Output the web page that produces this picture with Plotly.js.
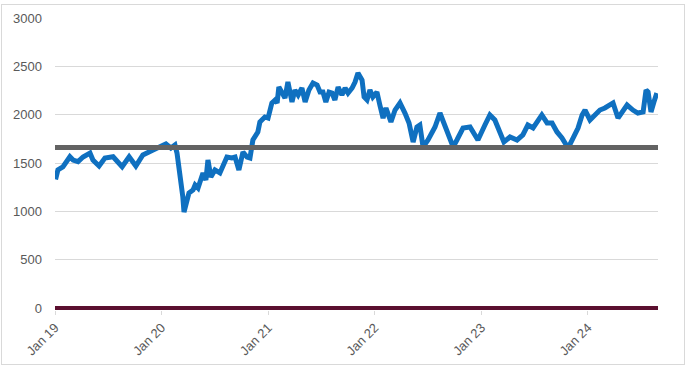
<!DOCTYPE html>
<html>
<head>
<meta charset="utf-8">
<script src="https://cdn.plot.ly/plotly-3.0.1.min.js"></script>
<style>
  html, body { margin: 0; padding: 0; background: #ffffff; }
  #frame { position: absolute; left: 1px; top: 4px; width: 684px; height: 361px; border: 1px solid #d9d9d9; box-sizing: border-box; }
  #chart { position: absolute; left: 0; top: 0; width: 691px; height: 368px; }
</style>
</head>
<body>
<div id="frame"></div>
<div id="chart"></div>
<script>
const dates = [
  '2019-01-03','2019-01-11','2019-01-28','2019-02-21','2019-03-04','2019-03-21','2019-04-07','2019-05-01',
  '2019-05-11','2019-06-01','2019-06-21','2019-07-19','2019-08-19','2019-09-12','2019-10-05','2019-10-29',
  '2019-12-03','2019-12-27','2020-01-16','2020-02-02','2020-02-16','2020-02-23','2020-03-04','2020-03-14',
  '2020-03-18','2020-03-28','2020-04-04','2020-04-18','2020-04-25','2020-05-05','2020-05-22','2020-06-01',
  '2020-06-08','2020-06-18','2020-07-02','2020-07-19','2020-08-12','2020-08-29','2020-09-09','2020-09-22',
  '2020-10-06','2020-10-20','2020-10-30','2020-11-09','2020-11-26','2020-12-03','2020-12-20','2020-12-31',
  '2021-01-13','2021-01-24','2021-01-31','2021-02-06','2021-02-17','2021-02-27','2021-03-09','2021-03-16',
  '2021-03-23','2021-04-02','2021-04-13','2021-04-26','2021-05-07','2021-05-20','2021-06-03','2021-06-17',
  '2021-06-27','2021-07-07','2021-07-17','2021-07-28','2021-08-07','2021-08-17','2021-08-28','2021-09-10',
  '2021-09-21','2021-10-01','2021-10-15','2021-10-25','2021-11-04','2021-11-18','2021-11-25','2021-12-05',
  '2021-12-15','2021-12-25','2022-01-08','2022-01-18','2022-01-29','2022-02-08','2022-02-25','2022-03-11',
  '2022-03-28','2022-04-14','2022-04-28','2022-05-12','2022-05-25','2022-06-04','2022-06-15','2022-07-02',
  '2022-07-26','2022-08-12','2022-08-29','2022-09-12','2022-09-26','2022-10-09','2022-10-30','2022-11-23',
  '2022-12-20','2023-01-13','2023-01-30','2023-02-16','2023-03-06','2023-03-19','2023-04-09','2023-05-03',
  '2023-05-23','2023-06-09','2023-06-27','2023-07-27','2023-08-14','2023-08-31','2023-09-17','2023-10-04',
  '2023-10-25','2023-11-11','2023-11-28','2023-12-12','2023-12-22','2024-01-08','2024-01-25','2024-02-11',
  '2024-02-28','2024-03-16','2024-03-27','2024-04-13','2024-04-30','2024-05-14','2024-06-03','2024-06-20',
  '2024-07-08','2024-07-18','2024-07-25','2024-08-04','2024-08-14','2024-08-24'
];
const values = [
  1330,1428,1459,1565,1531,1514,1562,1603,
  1531,1469,1552,1565,1462,1565,1469,1583,
  1634,1666,1697,1655,1686,1603,1397,1148,
  993,1086,1190,1221,1272,1241,1397,1324,
  1531,1355,1428,1397,1562,1552,1562,1428,
  1614,1562,1552,1738,1821,1924,1976,1965,
  2121,2152,2121,2286,2234,2172,2338,2255,
  2131,2255,2203,2276,2131,2255,2328,2307,
  2234,2234,2131,2234,2224,2152,2286,2203,
  2276,2224,2276,2338,2431,2359,2183,2152,
  2255,2183,2234,2100,1965,2069,1924,2048,
  2121,2017,1914,1717,1872,1893,1666,1738,
  1872,2017,1872,1790,1666,1738,1862,1872,
  1738,1893,1997,1945,1790,1717,1769,1738,
  1790,1893,1862,1997,1914,1914,1821,1759,
  1655,1769,1862,1997,2048,1945,1997,2048,
  2069,2100,2121,1965,2048,2100,2048,2017,
  2028,2255,2234,2028,2131,2224
];
const rangeDates = ['2019-01-01', '2024-08-28'];
const averageLevel = [1660, 1660];
const zeroLevel = [0, 0];
const yTicks = [0, 500, 1000, 1500, 2000, 2500, 3000];

const font = { family: 'Liberation Sans, Arial, sans-serif', size: 13, color: '#595959' };

const traces = [
  { x: dates, y: values, type: 'scatter', mode: 'lines',
    line: { color: '#0f70c0', width: 5 }, hoverinfo: 'skip' },
  { x: rangeDates, y: averageLevel, type: 'scatter', mode: 'lines',
    line: { color: '#636363', width: 5 }, hoverinfo: 'skip' },
  { x: rangeDates, y: zeroLevel, type: 'scatter', mode: 'lines',
    line: { color: '#5b0f2f', width: 4 }, hoverinfo: 'skip' }
];

const layout = {
  width: 691, height: 368,
  margin: { l: 55, r: 33, t: 18, b: 58 },
  paper_bgcolor: 'rgba(0,0,0,0)',
  plot_bgcolor: 'rgba(0,0,0,0)',
  showlegend: false,
  font: font,
  xaxis: {
    type: 'date',
    range: rangeDates,
    tick0: '2019-01-01',
    dtick: 'M12',
    tickformat: '%b %y',
    tickangle: -45,
    ticks: 'outside',
    ticklen: 4,
    tickcolor: '#d9d9d9',
    showgrid: false,
    zeroline: false,
    showline: false,
    tickfont: font
  },
  yaxis: {
    range: [-20.7, 3000],
    tickvals: yTicks,
    ticktext: yTicks.map(String),
    showgrid: true,
    gridcolor: '#d9d9d9',
    gridwidth: 1,
    zeroline: false,
    showline: false,
    ticks: '',
    ticklabelstandoff: 12,
    tickfont: font
  }
};

Plotly.newPlot('chart', traces, layout, { displayModeBar: false, staticPlot: true });
</script>
</body>
</html>
